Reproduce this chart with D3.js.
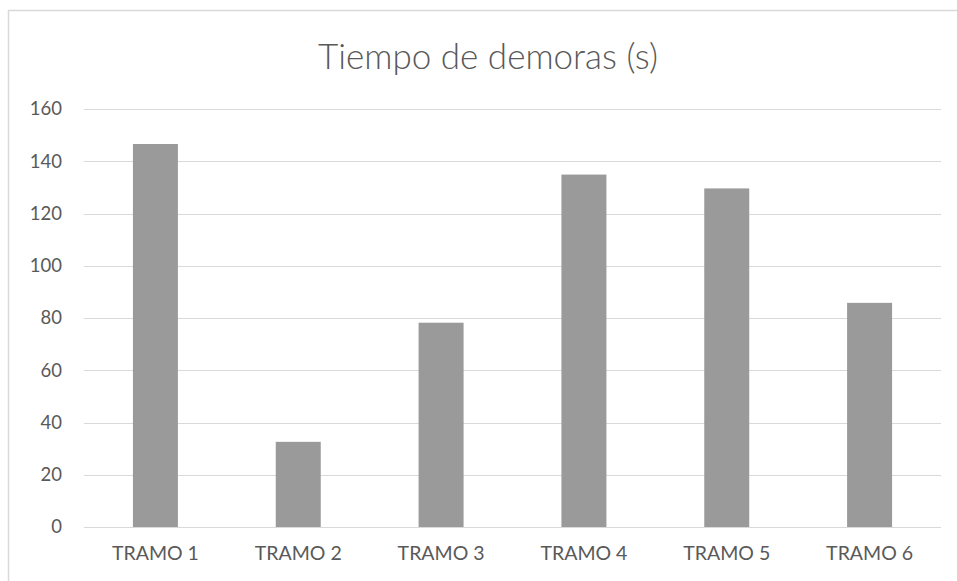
<!DOCTYPE html>
<html>
<head>
<meta charset="utf-8">
<script src="https://cdn.jsdelivr.net/npm/d3@7"></script>
<style>
  html, body { margin: 0; padding: 0; background: #fff; }
  svg { display: block; }
  text { font-family: Lato, "Open Sans", sans-serif; fill: #595959; }
</style>
</head>
<body>
<svg id="chart" width="957" height="581"></svg>
<script>
// Delay time per road segment, in seconds
const categories = ["TRAMO 1", "TRAMO 2", "TRAMO 3", "TRAMO 4", "TRAMO 5", "TRAMO 6"];
const delays = [146.6, 32.6, 78.2, 134.9, 129.6, 85.8];
const yTicks = [0, 20, 40, 60, 80, 100, 120, 140, 160];
const chartTitle = "Tiempo de demoras (s)";

const svg = d3.select("#chart");
const W = 957, H = 581;
const margin = { left: 84, right: 16, top: 109, bottom: 54 };
const innerW = W - margin.left - margin.right;
const innerH = H - margin.top - margin.bottom;

// Outer chart frame
svg.append("rect")
  .attr("x", 8.5).attr("y", 10.5)
  .attr("width", W + 20).attr("height", H + 20)
  .attr("fill", "#fff")
  .attr("stroke", "#d9d9d9").attr("stroke-width", 1.5);

svg.append("text")
  .attr("x", 488).attr("y", 69)
  .attr("text-anchor", "middle")
  .attr("font-size", 35)
  .attr("font-weight", 300)
  .text(chartTitle);

const g = svg.append("g").attr("transform", `translate(${margin.left},${margin.top})`);

const x = d3.scaleBand()
  .domain(categories)
  .range([0, innerW])
  .paddingInner(0.685)
  .paddingOuter(0.3425);

const y = d3.scaleLinear().domain([0, 160]).range([innerH, 0]);

// Horizontal gridlines
g.append("g")
  .selectAll("line")
  .data(yTicks)
  .join("line")
  .attr("x1", 0).attr("x2", innerW)
  .attr("y1", d => Math.round(y(d)) + 0.5)
  .attr("y2", d => Math.round(y(d)) + 0.5)
  .attr("stroke", "#d9d9d9").attr("stroke-width", 1.2);

// Y axis labels
const yAxis = g.append("g")
  .call(d3.axisLeft(y).tickValues(yTicks).tickSize(0).tickPadding(22));
yAxis.select(".domain").remove();
yAxis.selectAll("text")
  .attr("font-size", 18.5)
  .attr("font-family", "Lato, 'Open Sans', sans-serif")
  .attr("fill", "#595959");

// Bars
g.append("g")
  .selectAll("rect")
  .data(categories.map((c, i) => ({ c, v: delays[i] })))
  .join("rect")
  .attr("x", d => x(d.c))
  .attr("y", d => y(d.v))
  .attr("width", x.bandwidth())
  .attr("height", d => innerH - y(d.v))
  .attr("fill", "#9a9a9a");

// X axis labels
const xAxis = g.append("g")
  .attr("transform", `translate(0,${innerH})`)
  .call(d3.axisBottom(x).tickSize(0).tickPadding(19));
xAxis.select(".domain").remove();
xAxis.selectAll("text")
  .attr("font-size", 19.5)
  .attr("font-family", "Lato, 'Open Sans', sans-serif")
  .attr("fill", "#595959");
</script>
</body>
</html>
